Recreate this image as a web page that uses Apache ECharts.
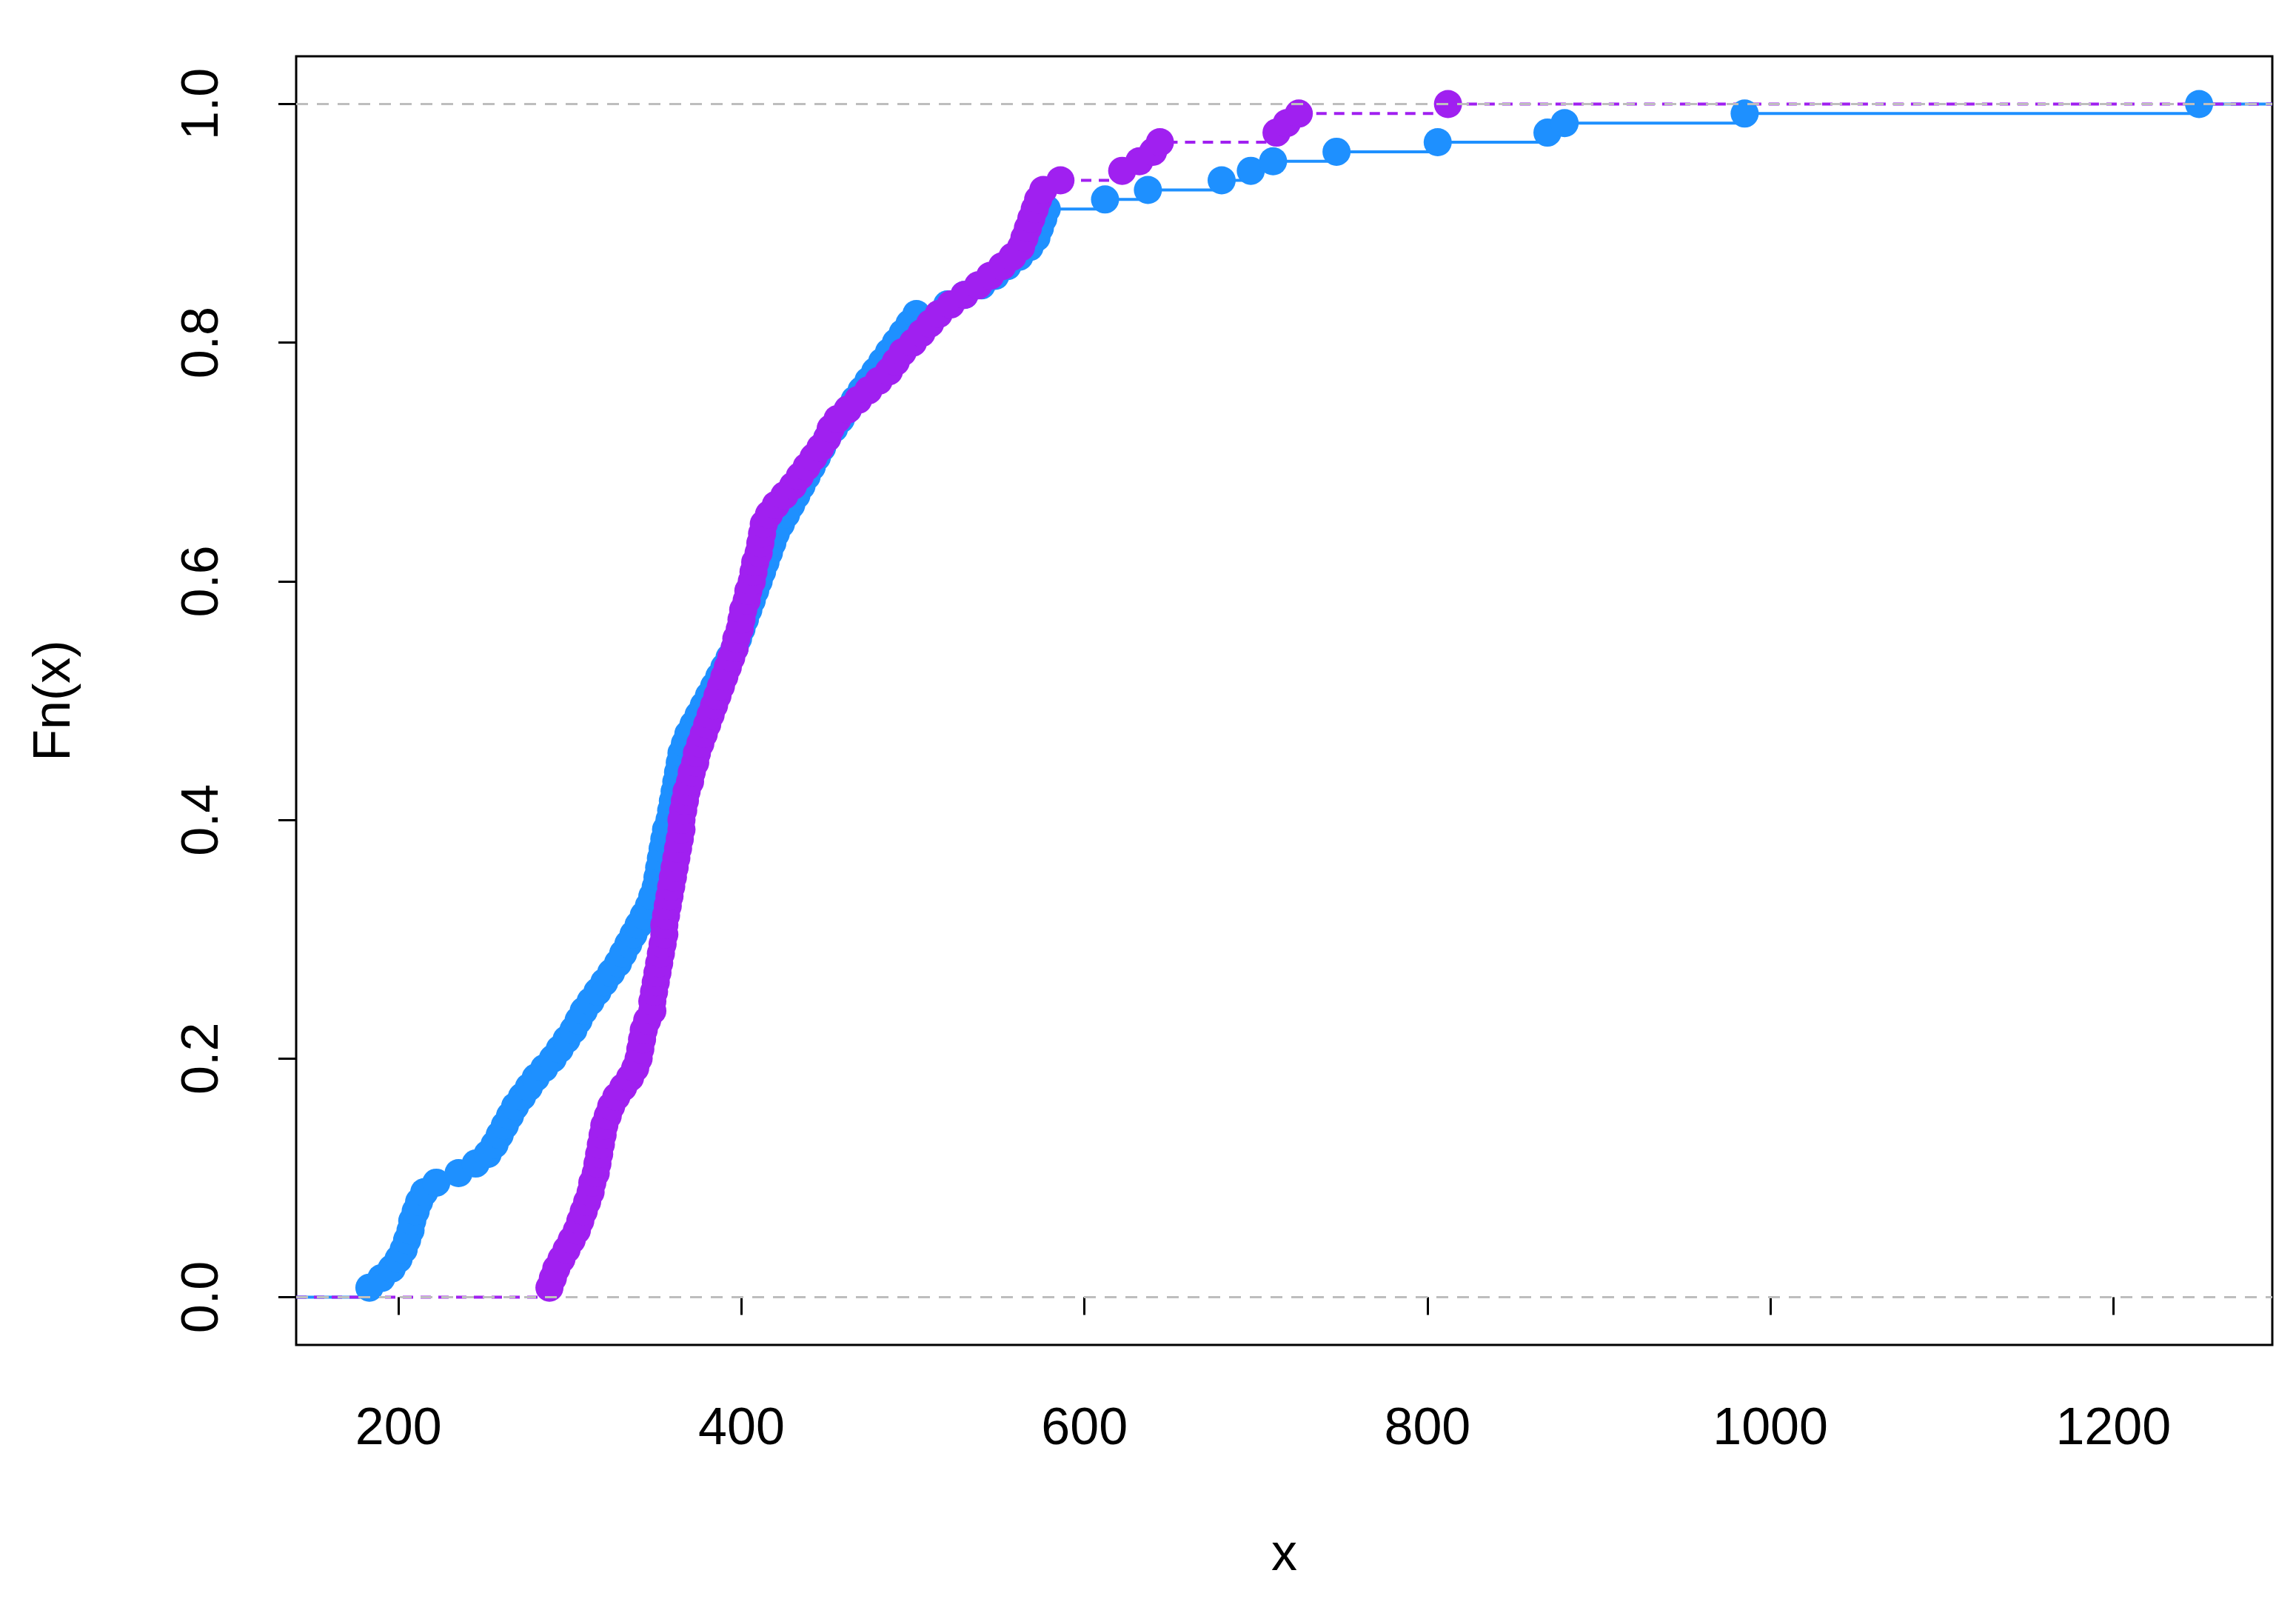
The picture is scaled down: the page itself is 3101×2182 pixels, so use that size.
<!DOCTYPE html>
<html>
<head>
<meta charset="utf-8">
<script src="https://cdn.jsdelivr.net/npm/echarts@6/dist/echarts.min.js"></script>
<style>html,body{margin:0;padding:0;background:#fff}#chart{width:3101px;height:2182px}</style>
</head>
<body>
<div id="chart"></div>
<script>
// sorted sample values
var blueX = [183,190,196,200,203,205,207,208,210,212,
  215,222,235,245,252,256,259,262,265,268,
  272,276,280,285,290,294,298,302,305,308,
  312,316,320,324,328,331,334,337,340,343,
  346,348,350,351,352,353,354,355,356,358,
  359,360,361,362,363,364,365,367,369,372,
  375,378,381,384,387,390,393,396,398,400,
  402,404,406,408,410,412,414,416,418,420,
  423,426,429,432,435,438,441,444,447,450,
  454,458,462,466,470,474,478,482,486,490,
  494,498,502,520,530,540,548,555,562,568,
  572,574,576,578,
  612,637,680,697,710,747,806,870,880,985,1250];
var purpleX = [288,290,292,295,298,301,304,306,308,310,
  312,313,315,316,317,318,319,320,322,324,
  327,331,335,338,340,341,342,343,345,348,
  348,349,350,351,352,353,354,355,355,356,
  357,358,359,360,361,362,363,364,365,365,
  366,367,368,370,371,373,374,376,378,380,
  382,384,386,388,390,392,394,396,397,399,
  400,401,403,404,406,407,408,410,411,412,
  413,416,420,425,430,434,438,442,446,450,
  452,456,462,468,474,480,486,490,494,500,
  505,510,515,522,530,538,545,552,558,563,
  565,567,569,571,573,576,586,
  622,632,640,644,712,718,725,812];
var xTicks = [200,400,600,800,1000,1200];
var yTicks = [0,0.2,0.4,0.6,0.8,1.0];
var xMin = 140.3, xMax = 1292.7;

function ecdf(xs) {
  var n = xs.length, pts = [[xMin, 0]];
  xs.forEach(function (x, i) { pts.push([x, (i + 1) / n]); });
  pts.push([xMax, 1]);
  return pts;
}
function ecdfSeries(xs, color, lineType, withRefs) {
  var pts = ecdf(xs);
  var s = [{
    type: 'line', step: 'end', data: pts, showSymbol: false, silent: true,
    lineStyle: {color: color, width: 4, type: lineType}, z: 2
  }, {
    type: 'scatter', data: pts.slice(1, pts.length - 1), symbolSize: 38,
    itemStyle: {color: color, opacity: 1}, z: 3
  }];
  if (withRefs) {
    s[0].markLine = {
      silent: true, symbol: 'none', label: {show: false},
      lineStyle: {color: '#bebebe', type: [16, 12], width: 3},
      data: [{yAxis: 0}, {yAxis: 1}]
    };
  }
  return s;
}

var chart = echarts.init(document.getElementById('chart'));
var font = 'Liberation Sans, Arial, sans-serif';
chart.setOption({
  backgroundColor: '#fff',
  animation: false,
  grid: {left: 400, right: 32, top: 76, bottom: 366, show: true, borderColor: '#000', borderWidth: 3, backgroundColor: 'transparent'},
  xAxis: {
    type: 'value', min: xMin, max: xMax, name: 'x', nameLocation: 'middle', nameGap: 250,
    nameTextStyle: {fontFamily: font, fontSize: 70, color: '#000'},
    axisLine: {show: false}, splitLine: {show: false},
    axisTick: {show: true, length: 24, lineStyle: {color: '#000', width: 3}, customValues: xTicks},
    axisLabel: {fontFamily: font, fontSize: 70, color: '#000', margin: 80, customValues: xTicks,
      formatter: function (v) { return String(v); }}
  },
  yAxis: {
    type: 'value', min: -0.04, max: 1.04, name: 'Fn(x)', nameLocation: 'middle', nameGap: 290, nameRotate: 90,
    nameTextStyle: {fontFamily: font, fontSize: 70, color: '#000'},
    axisLine: {show: false}, splitLine: {show: false},
    axisTick: {show: true, length: 24, lineStyle: {color: '#000', width: 3}, customValues: yTicks},
    axisLabel: {fontFamily: font, fontSize: 70, color: '#000', margin: 90, rotate: 90,
      customValues: yTicks, formatter: function (v) { return v.toFixed(1); }}
  },
  series: [].concat(ecdfSeries(blueX, '#1e90ff', 'solid', true), ecdfSeries(purpleX, '#a020f0', [14, 10], false))
});
</script>
</body>
</html>
